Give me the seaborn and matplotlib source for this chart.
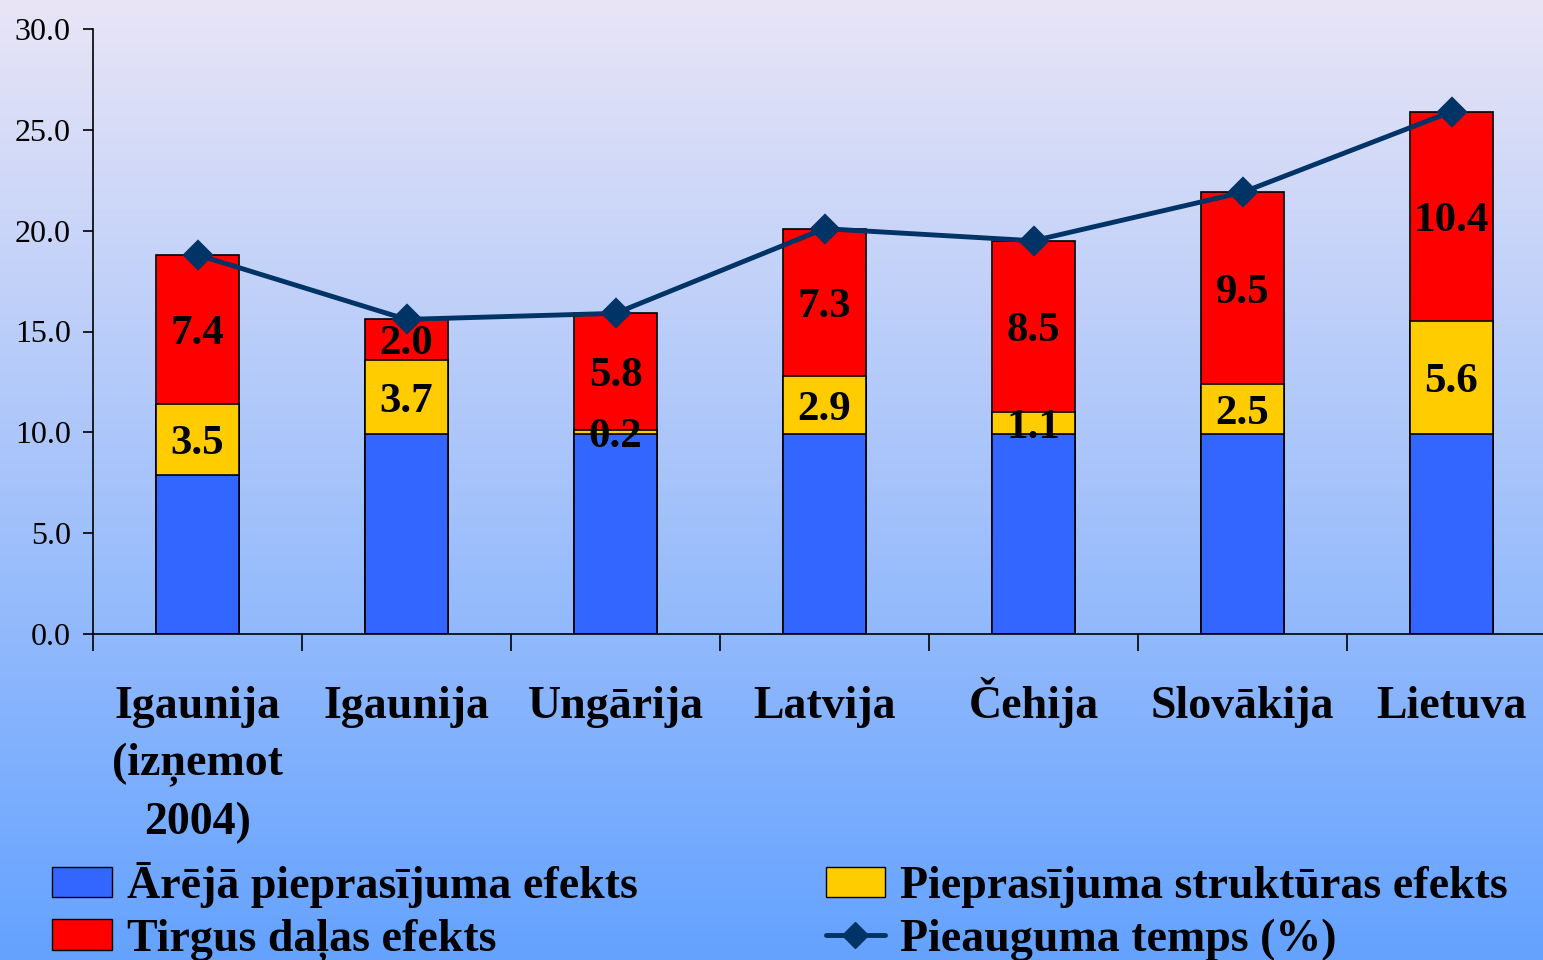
import numpy as np
import pandas as pd
import matplotlib
matplotlib.use("Agg")
import matplotlib.pyplot as plt
import matplotlib.transforms as mtransforms
import seaborn as sns
from matplotlib.patches import Patch
from matplotlib.lines import Line2D

# ---- data ----
categories = ["Igaunija\n(izņemot\n2004)", "Igaunija", "Ungārija", "Latvija",
              "Čehija", "Slovākija", "Lietuva"]
external_demand = [7.9, 9.9, 9.9, 9.9, 9.9, 9.9, 9.9]
demand_structure = [3.5, 3.7, 0.2, 2.9, 1.1, 2.5, 5.6]
market_share = [7.4, 2.0, 5.8, 7.3, 8.5, 9.5, 10.4]
growth_rate = [18.8, 15.6, 15.9, 20.1, 19.5, 21.9, 25.9]
yticks = [0, 5, 10, 15, 20, 25, 30]

series_names = ["Ārējā pieprasījuma efekts", "Pieprasījuma struktūras efekts",
                "Tirgus daļas efekts", "Pieauguma temps (%)"]

C_BLUE = "#3366FF"
C_YEL = "#FFCC00"
C_RED = "#FF0000"
C_LINE = "#003366"

sns.set_theme(style="white")
plt.rcParams['font.family'] = ['Liberation Serif', 'DejaVu Serif']
plt.rcParams['text.color'] = 'black'
plt.rcParams['axes.labelcolor'] = 'black'
plt.rcParams['xtick.color'] = 'black'
plt.rcParams['ytick.color'] = 'black'

df = pd.DataFrame({"cat": categories, "ext": external_demand,
                   "str": demand_structure, "mkt": market_share,
                   "growth": growth_rate})
df["lvl2"] = df["ext"] + df["str"]
df["lvl3"] = df["lvl2"] + df["mkt"]

fig = plt.figure(figsize=(15.43, 9.6), dpi=100)

# gradient background
bg = fig.add_axes([0, 0, 1, 1], zorder=0)
top = np.array([233, 229, 246]) / 255
bot = np.array([100, 162, 255]) / 255
t = np.linspace(0, 1, 512)[:, None]
grad = top[None, :] * (1 - t) + bot[None, :] * t
bg.imshow(grad[:, None, :], aspect="auto", extent=[0, 1, 0, 1])
bg.axis("off")

ax = fig.add_axes([93 / 1543, 326 / 960, 1463 / 1543, 605 / 960], zorder=1)
ax.set_facecolor("none")

common = dict(data=df, x="cat", saturation=1, width=0.4, edgecolor="black",
              linewidth=1.2, ax=ax)
sns.barplot(y="lvl3", color=C_RED, **common)
sns.barplot(y="lvl2", color=C_YEL, **common)
sns.barplot(y="ext", color=C_BLUE, **common)

sns.pointplot(data=df, x="cat", y="growth", color=C_LINE, markers="D",
              markersize=13, linewidth=3.5, ax=ax)

for i, row in df.iterrows():
    ax.text(i, row["ext"] + row["str"] / 2, f"{row['str']:.1f}", ha="center",
            va="center_baseline", fontsize=31, fontweight="bold", color="black",
            zorder=5)
    ax.text(i, row["lvl2"] + row["mkt"] / 2, f"{row['mkt']:.1f}", ha="center",
            va="center_baseline", fontsize=31, fontweight="bold", color="black",
            zorder=5)

ax.set_ylim(0, 30)
ax.set_xlim(-0.5, 6.5)
ax.set_yticks(yticks)
ax.set_yticklabels([f"{v:.1f}" for v in yticks])
ax.set_xlabel("")
ax.set_ylabel("")
for s in ["top", "right"]:
    ax.spines[s].set_visible(False)
for s in ["left", "bottom"]:
    ax.spines[s].set_color("black")
    ax.spines[s].set_linewidth(1.2)

ax.tick_params(axis="y", direction="out", length=7, width=1.2, pad=9,
               labelsize=23, colors="black", left=True)
ax.set_xticks(np.arange(-0.5, 7, 1), minor=True)
ax.tick_params(axis="x", which="major", length=0, labelbottom=False)
ax.tick_params(axis="x", which="minor", length=12, width=1.2, direction="out",
               bottom=True, color="black")

# category labels, first-line baseline ~84 px below the axis
LINE_PT = 41.8
for i, cat in enumerate(categories):
    n = cat.count("\n") + 1
    tr = mtransforms.offset_copy(ax.get_xaxis_transform(), fig=fig, x=0,
                                 y=-(60.5 + (n - 1) * LINE_PT), units="points")
    ax.text(i, 0, cat, transform=tr, ha="center", va="baseline",
            multialignment="center", fontsize=33, fontweight="bold",
            linespacing=1.46, color="black", clip_on=False)

handles = [Patch(fc=C_BLUE, ec="black"), Patch(fc=C_RED, ec="black"),
           Patch(fc=C_YEL, ec="black"),
           Line2D([], [], color=C_LINE, marker="D", markersize=13, lw=3.5)]
labels = [series_names[0], series_names[2], series_names[1], series_names[3]]
leg = fig.legend(handles, labels, loc="upper left",
                 bbox_to_anchor=(52 / 1543, 1 - 862 / 960), ncol=2,
                 frameon=False,
                 prop={"family": "Liberation Serif", "weight": "bold",
                       "size": 33},
                 handlelength=1.3, handleheight=0.65, handletextpad=0.33,
                 columnspacing=4.1, labelspacing=0.23, borderpad=0,
                 borderaxespad=0)
for txt in leg.get_texts():
    txt.set_color("black")

fig.savefig("out.png", dpi=100)
